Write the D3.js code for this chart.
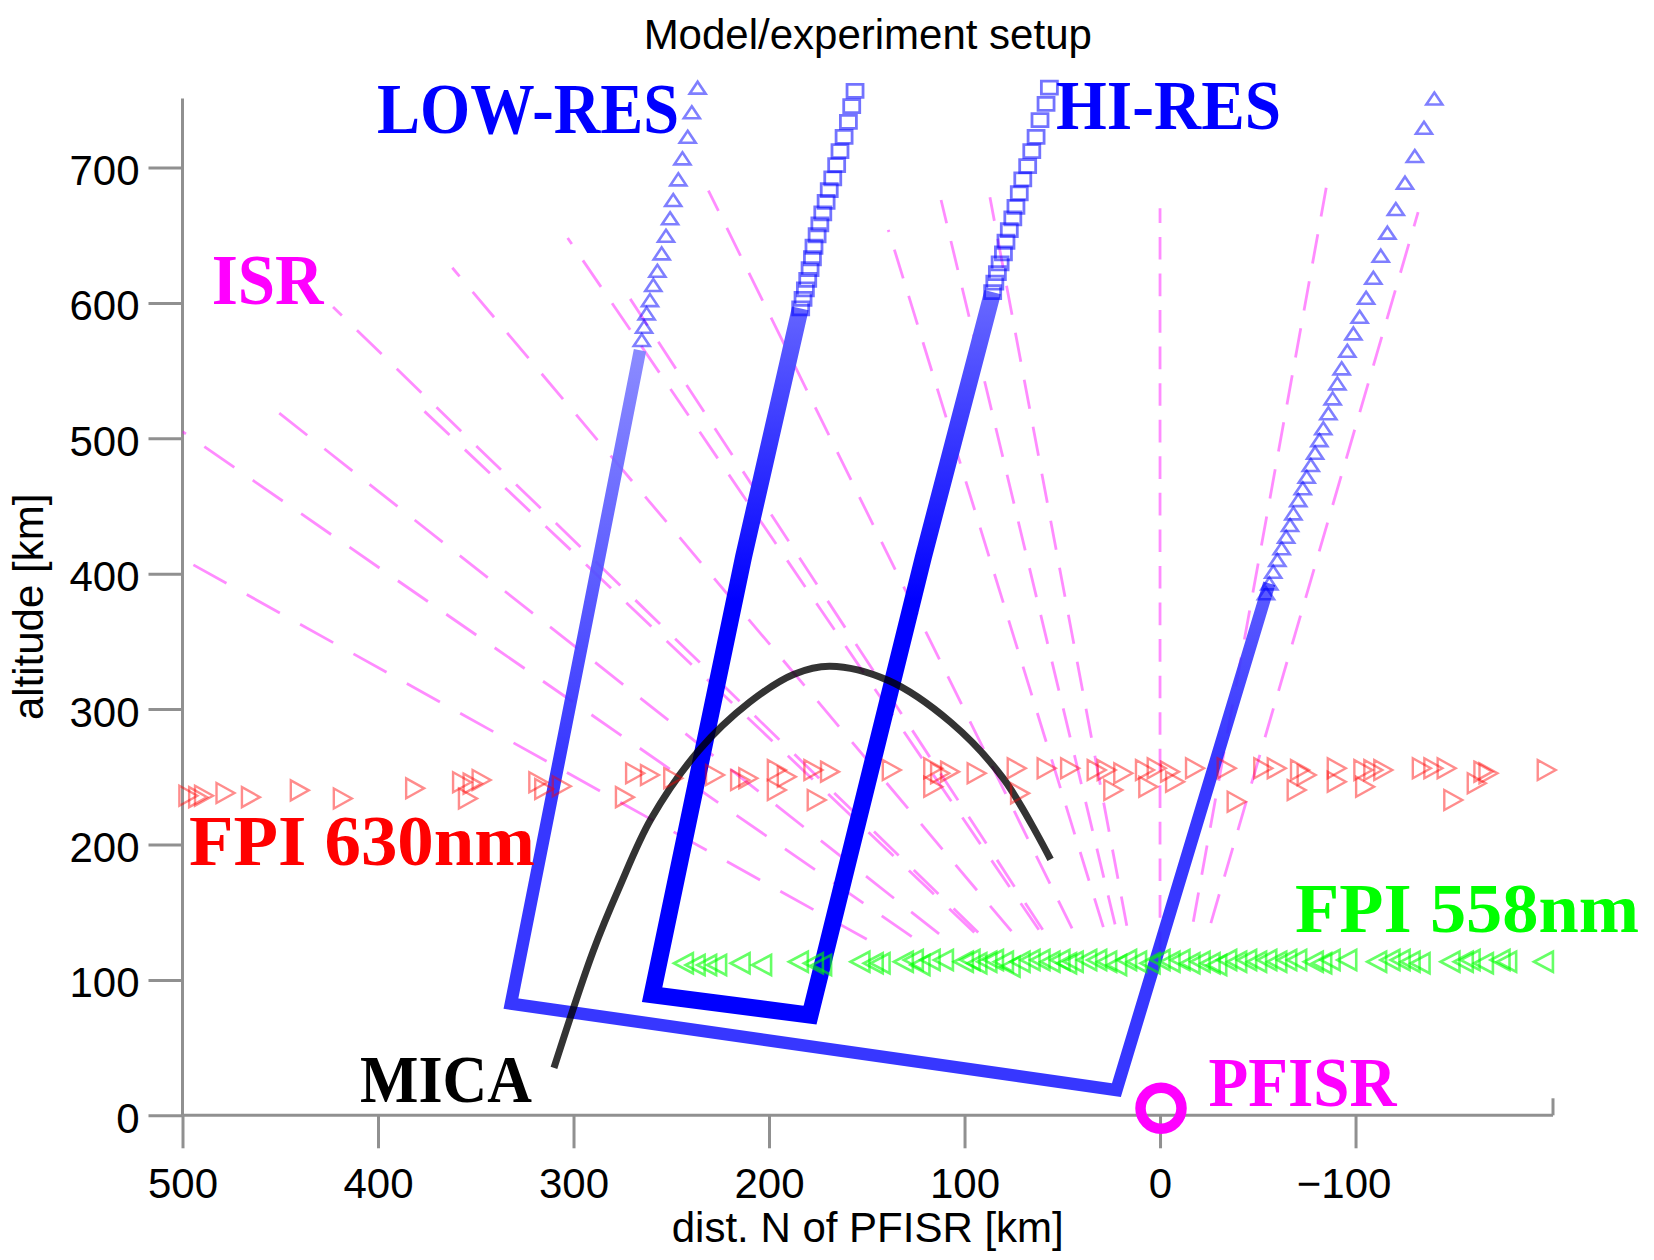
<!DOCTYPE html>
<html>
<head>
<meta charset="utf-8">
<script src="https://cdn.jsdelivr.net/npm/d3@7"></script>
<style>
  body { margin: 0; background: #fff; }
  svg { display: block; }
</style>
</head>
<body>
<svg id="chart" width="1654" height="1260"></svg>
<script>
// ---------------- data (km: distance north of PFISR, altitude) ----------------
const xTicks = [500, 400, 300, 200, 100, 0, -100];
const yTicks = [0, 100, 200, 300, 400, 500, 600, 700];

// ISR beams: upper and lower end of each dashed beam segment
const isrBeamTop = [[500,411],[500,505],[457,526],[423,597],[377,521],[362,626],[303,648],[271,603],
                    [231,683],[139,654],[112,676],[87,678],[0,670],[-85,685],[-132,667]];
const isrBeamBottom = [[150,130],[127,132],[113,134],[93,135],[95,135],[76,136],[62,137],[60,137],
                       [45,138],[29,139],[23,141],[17,140],[0,119],[-17,143],[-26,142]];

// LOW-RES model grid: dense outline (left edge top -> bottom -> right edge top)
const lowResOutline = [[266,565],[294,360],[332,82.5],[22.3,18.6],[-55.9,392.9]];
// sparse grid points along the upper field-aligned edges
const lowResLeftPts = [[265.1,572.6],[263.9,582.4],[262.6,592.3],[260.9,602.1],[259.2,613.2],[257.1,623.8],
  [254.9,636.6],[252.7,649.6],[250.6,662.5],[249,676],[246.4,691.3],[244.3,706.8],[241.6,722.7],[239.5,740.8],[236.5,759]];
const lowResRightPts = [[-54.2,385.6],[-55.9,392.9],[-57.9,401.5],[-60,410.2],[-62.2,418.8],[-64.5,427.3],[-66.5,436],
  [-68.2,444.6],[-70.7,454.4],[-73,463.1],[-75,471.6],[-77.1,480.3],[-79.3,489.4],[-81.5,498.7],[-83.5,507.4],
  [-86.1,518.5],[-88.3,529.5],[-90.7,540.6],[-92.9,551.7],[-95.8,564.7],[-98.9,577.5],[-102.1,589.8],[-105.4,603.8],
  [-109.1,618.6],[-112.9,634.9],[-116.3,651.9],[-120.6,669.4],[-125.3,688.8],[-130.3,708.5],[-135,729.4],[-140.3,751]];

// HI-RES model grid
const hiResOutline = [[184,596],[213,412.6],[259.8,89],[179,74],[121,412.6],[85.6,608]];
const hiResLeftPts = [[183.8,596],[182.6,603],[181.4,610],[180.2,617],[179,625],[177.8,633],[177,641.5],[175.4,650],
  [174,658],[172.5,666.2],[170.8,674.7],[169.2,683.4],[167.4,692],[165.4,701.8],[163.7,712.2],[161.6,722.7],
  [159.4,733.8],[157.7,745.4],[156,756.7]];
const hiResRightPts = [[85.6,608],[84.5,615],[83.2,622],[81.8,629.2],[80.1,636.6],[78.8,645.2],[77.1,653.8],[75.3,662.5],
  [73.7,671],[72,681],[70.2,691.3],[67.7,701],[65.6,712.2],[63.4,722.7],[61.4,735],[58.3,747],[56.6,759]];

// MICA rocket trajectory
const micaTrack = [[310,35],[290,121],[276.5,168.5],[260.3,219],[235.9,269.4],[210,305],[187.2,325.8],
  [168.8,331.7],[139.2,321.3],[107,290.2],[80.1,248.6],[56,189]];

// FPI 630 nm sample locations
const fpi630 = [[497,236],[492,235],[489,236],[478,238],[465,235],[440,240],[418,234],[381,241.5],[357,246],
  [351.6,245],[347,247.6],[354,234],[318,246],[315,241],[306,243],[273.7,235],[268.5,252.6],
  [260.9,251.3],[249,248.9],[227.6,251.3],[214.8,247.6],[210.6,248.9],[196,255],[190.9,250],[196,240.3],
  [177.3,255],[168.8,253.8],[175.6,232.9],[137.2,255],[116,256.3],[112.5,252.6],[107.4,253.8],[116,242.7],
  [93.8,252.6],[73.3,256.3],[71.6,237.8],[58,256.3],[46,256.3],[32.4,255],
  [27.3,255],[23.9,240.3],[18.8,252.6],[7.7,255],[1.7,256.3],[6,242.7],[-5.1,253.8],[-7.7,246.4],[-17.9,256.3],
  [-34.1,256.3],[-39.2,231.6],[-52.8,256.3],[-59.7,256.3],[-71.6,255],[-75,251.3],[-69.9,240.3],[-90.4,256.3],
  [-90.4,246.4],[-104,255],[-109.1,255],[-114.2,255],[-104.9,242.7],[-133.9,256.3],[-139.8,256.3],[-146.6,256.3],
  [-165.4,253.8],[-168,252.6],[-162,245.2],[-150,232.9],[-197.8,255]];

// FPI 558 nm sample locations
const fpi558 = [[243.8,112.3],[237.8,111],[231.9,111],[226.8,111],[214.8,112.3],[203.8,111],[185,113.4],[177.3,112.3],
  [173.1,111],[153.5,113.4],[146.7,112.3],[143.2,112.3],[131.3,113.4],[126.2,114.7],[122.8,111],[117.6,114.7],
  [110.8,114.7],[100.6,113.4],[97.2,114.7],[93.7,112.3],[88.6,113.4],[85.2,114.7],[80.1,113.4],[76.7,109.8],
  [71.6,113.4],[66.5,114.7],[61.4,114.7],[56.3,113.4],[51.2,114.7],[47.8,112.3],[44.4,113.4],[37.5,114.7],[32.4,114.7],
  [27.3,113.4],[22.2,111],[17.1,114.7],[12,113.4],[5.1,112.3],[0,114.7],[-5.1,113.4],[-10.2,114.7],[-15.3,112.3],
  [-20.5,113.4],[-25.6,112.3],[-29,111],[-34.1,114.7],[-39.2,113.4],[-44.3,114.7],[-49.4,113.4],[-54.6,114.7],
  [-59.7,113.4],[-64.8,114.7],[-69.9,114.7],[-78.4,113.4],[-82.7,112.3],[-87,114.7],[-95.5,114.7],[-110.8,113.4],
  [-117.6,114.7],[-122.8,114.7],[-127.9,113.4],[-133,112.3],[-148.3,113.4],[-155.1,113.4],[-158.6,114.7],
  [-165.4,112.3],[-173.9,114.7],[-177.3,113.4],[-196.1,113.4]];

// radar site
const pfisrSite = [-0.5, 5.2];

// ---------------- scales ----------------
const svg = d3.select("#chart");
const x = d3.scaleLinear().domain([500, -201]).range([182.5, 1553]);
const y = d3.scaleLinear().domain([0, 751]).range([1115.3, 98.5]);
const SANS = "'Liberation Sans', Arial, Helvetica, sans-serif";
const SERIF = "'Liberation Serif', 'Times New Roman', serif";

const defs = svg.append("defs");
defs.append("clipPath").attr("id", "plotClip").append("rect")
  .attr("x", x(500)).attr("y", 0).attr("width", 1654 - x(500)).attr("height", y(0));

function fadeGradient(id, aSolid, aLight, solid, light) {
  const g = defs.append("linearGradient").attr("id", id)
    .attr("gradientUnits", "userSpaceOnUse")
    .attr("x1", 0).attr("x2", 0).attr("y1", y(aSolid)).attr("y2", y(aLight));
  g.append("stop").attr("offset", 0).attr("stop-color", solid);
  g.append("stop").attr("offset", 1).attr("stop-color", light);
}
fadeGradient("lowFade", 260, 560, "#2626ff", "#8080ff");
fadeGradient("hiFade", 380, 610, "#0000ff", "#6a6aff");

// ---------------- axes ----------------
const axisColor = "#909090";
const gx = svg.append("g").attr("transform", `translate(0,${y(0)})`)
  .call(d3.axisBottom(x).tickValues(xTicks).tickSize(33).tickSizeOuter(0)
        .tickFormat(d => d < 0 ? "\u2212" + Math.abs(d) : d));
gx.select(".domain").remove();
gx.selectAll(".tick line").attr("stroke", axisColor).attr("stroke-width", 3);
gx.selectAll(".tick text")
  .attr("y", 83).attr("dy", null)
  .attr("dx", d => d < 0 ? -12 : 0)
  .attr("fill", "#000").style("font-family", SANS).style("font-size", "42px");

const gy = svg.append("g").attr("transform", `translate(${x(500)},0)`)
  .call(d3.axisLeft(y).tickValues(yTicks).tickSize(34).tickSizeOuter(0));
gy.select(".domain").remove();
gy.selectAll(".tick line").attr("stroke", axisColor).attr("stroke-width", 3);
gy.selectAll(".tick text")
  .attr("x", -43).attr("dy", null).attr("y", 17)
  .attr("fill", "#000").style("font-family", SANS).style("font-size", "42px");

// axis lines
svg.append("line").attr("x1", x(500)).attr("x2", x(-201)).attr("y1", y(0)).attr("y2", y(0))
  .attr("stroke", axisColor).attr("stroke-width", 3);
svg.append("line").attr("x1", x(500)).attr("x2", x(500)).attr("y1", y(0)).attr("y2", y(751))
  .attr("stroke", axisColor).attr("stroke-width", 3);
svg.append("line").attr("x1", x(-201)).attr("x2", x(-201)).attr("y1", y(0)).attr("y2", y(0) - 17)
  .attr("stroke", axisColor).attr("stroke-width", 3);

// titles
svg.append("text").attr("x", (x(500) + x(-201)) / 2).attr("y", 49).attr("text-anchor", "middle")
  .style("font-family", SANS).style("font-size", "42px").text("Model/experiment setup");
svg.append("text").attr("x", (x(500) + x(-201)) / 2).attr("y", 1242).attr("text-anchor", "middle")
  .style("font-family", SANS).style("font-size", "42px").text("dist. N of PFISR [km]");
svg.append("text").attr("transform", `translate(43,${(y(0) + y(751)) / 2}) rotate(-90)`)
  .attr("text-anchor", "middle")
  .style("font-family", SANS).style("font-size", "42px").text("altitude [km]");

// ---------------- ISR beams ----------------
const beams = isrBeamTop.map((t, i) => [isrBeamBottom[i], t]);
const beamLine = d3.line().x(d => x(d[0])).y(d => y(d[1]));
svg.append("g").attr("clip-path", "url(#plotClip)")
  .selectAll("path").data(beams).join("path")
  .attr("d", beamLine)
  .attr("fill", "none")
  .attr("stroke", "#ff00ff").attr("stroke-opacity", 0.45).attr("stroke-width", 2.8)
  .attr("stroke-dasharray", d => {
    const px = Math.hypot(x(d[1][0]) - x(d[0][0]), y(d[1][1]) - y(d[0][1]));
    const km = Math.hypot(d[1][0] - d[0][0], d[1][1] - d[0][1]);
    const period = d[0][0] === d[1][0] ? 27 : 35;   // zenith beam uses finer range gates
    const k = px / km;
    return `${period * 0.62 * k} ${period * 0.38 * k}`;
  });

// ---------------- model grids ----------------
const gridLine = d3.line().x(d => x(d[0])).y(d => y(d[1]));
svg.append("path").datum(lowResOutline).attr("d", gridLine)
  .attr("fill", "none").attr("stroke", "url(#lowFade)").attr("stroke-width", 12.5)
  .attr("stroke-linejoin", "miter").attr("stroke-opacity", 0.92);
svg.append("path").datum(hiResOutline).attr("d", gridLine)
  .attr("fill", "none").attr("stroke", "url(#hiFade)").attr("stroke-width", 17)
  .attr("stroke-linejoin", "miter");

const triUp = (w, h) => `M0,${-h / 2}L${w / 2},${h / 2}L${-w / 2},${h / 2}Z`;
const triRight = (w, h) => `M${-w / 2},${-h / 2}L${w / 2},0L${-w / 2},${h / 2}Z`;
const triLeft = (w, h) => `M${w / 2},${-h / 2}L${-w / 2},0L${w / 2},${h / 2}Z`;
const squareM = (w, h) => `M${-w / 2},${-h / 2}H${w / 2}V${h / 2}H${-w / 2}Z`;

function markers(data, shape, stroke, opacity, sw) {
  svg.append("g").selectAll("path").data(data).join("path")
    .attr("transform", d => `translate(${x(d[0])},${y(d[1])})`)
    .attr("d", shape)
    .attr("fill", "none").attr("stroke", stroke).attr("stroke-opacity", opacity).attr("stroke-width", sw);
}
markers(lowResLeftPts.concat(lowResRightPts), triUp(16, 12), "#0000ff", 0.5, 2.6);
markers(hiResLeftPts.concat(hiResRightPts), squareM(16, 13), "#0000ff", 0.55, 2.8);

// ---------------- MICA trajectory ----------------
svg.append("path").datum(micaTrack)
  .attr("d", d3.line().x(d => x(d[0])).y(d => y(d[1])).curve(d3.curveCatmullRom.alpha(0.5)))
  .attr("fill", "none").attr("stroke", "#000").attr("stroke-opacity", 0.8).attr("stroke-width", 7)
  .attr("stroke-linecap", "butt");

// ---------------- FPI samples ----------------
markers(fpi630, triRight(18, 20), "#ff0000", 0.45, 2.4);
markers(fpi558, triLeft(19, 20), "#00ff00", 0.6, 2.6);

// ---------------- PFISR site ----------------
svg.append("circle").attr("cx", x(pfisrSite[0])).attr("cy", y(pfisrSite[1])).attr("r", 20.5)
  .attr("fill", "none").attr("stroke", "#ff00ff").attr("stroke-width", 10.5);

// ---------------- annotations (anchored in km) ----------------
const notes = [
  { t: "LOW-RES",   d: 400.5, a: 725.8, fs: 72, w: 302, c: "#0000ff" },
  { t: "HI-RES",    d: 53.2,  a: 728.7, fs: 70, w: 225, c: "#0000ff" },
  { t: "ISR",       d: 485.1, a: 599.2, fs: 72, w: 112, c: "#ff00ff" },
  { t: "FPI 630nm", d: 496.7, a: 184.9, fs: 72, w: 346, c: "#ff0000" },
  { t: "FPI 558nm", d: -69.1, a: 135.7, fs: 70, w: 344, c: "#00ff00" },
  { t: "MICA",      d: 409.2, a: 9.8,   fs: 67, w: 172, c: "#000000" },
  { t: "PFISR",     d: -24.8, a: 6.9,   fs: 70, w: 188, c: "#ff00ff" }
];
svg.append("g").selectAll("text").data(notes).join("text")
  .attr("x", d => x(d.d)).attr("y", d => y(d.a))
  .attr("textLength", d => d.w).attr("lengthAdjust", "spacingAndGlyphs")
  .style("font-family", SERIF).style("font-weight", "bold")
  .style("font-size", d => d.fs + "px").attr("fill", d => d.c)
  .text(d => d.t);
</script>
</body>
</html>
